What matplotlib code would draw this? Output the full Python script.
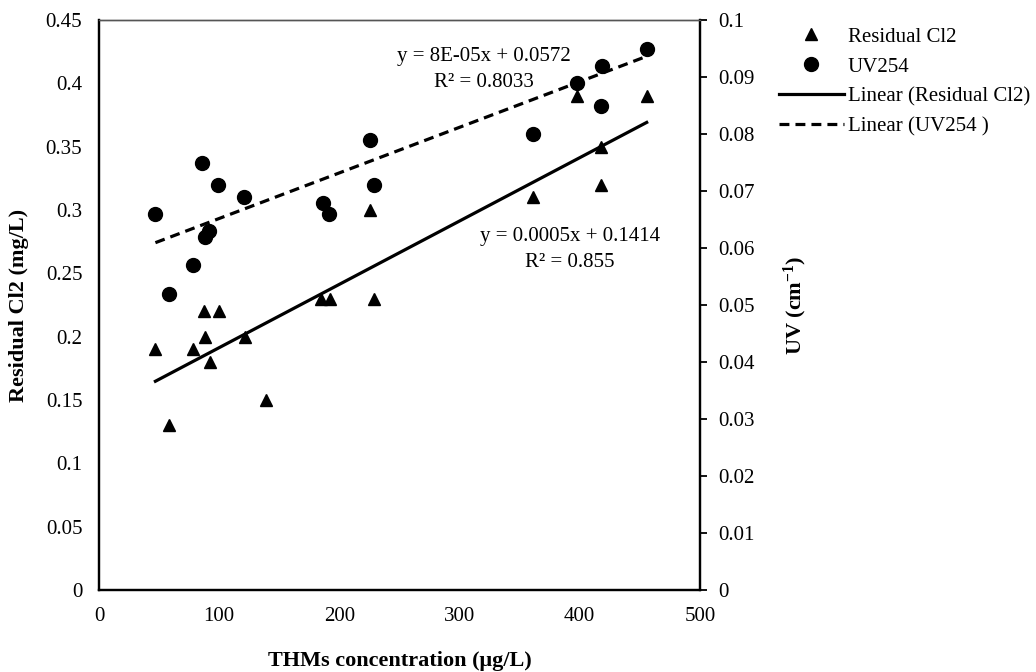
import matplotlib
matplotlib.use("Agg")
import matplotlib.pyplot as plt
from matplotlib.lines import Line2D
from matplotlib.ticker import FuncFormatter
import numpy as np

plt.rcParams['font.family'] = ['Liberation Serif', 'DejaVu Serif']
plt.rcParams['mathtext.fontset'] = 'custom'
plt.rcParams['mathtext.rm'] = 'Liberation Serif'
plt.rcParams['mathtext.bf'] = 'Liberation Serif:bold'

# THMs (ug/L) vs residual chlorine (mg/L)
thm_cl2 = [46.9, 58.3, 78.2, 87.2, 88.3, 92.1, 99.6, 121.3, 139.3,
           185.1, 192.1, 225.4, 228.7, 360.8, 397.9, 417.4, 417.4, 455.7]
cl2 = [0.19, 0.13, 0.19, 0.22, 0.20, 0.18, 0.22, 0.20, 0.15,
       0.23, 0.23, 0.30, 0.23, 0.31, 0.39, 0.35, 0.32, 0.39]

# THMs (ug/L) vs UV254 absorbance (1/cm)
thm_uv = [46.9, 58.3, 78.2, 86.0, 88.0, 91.6, 99.1, 120.7, 186.5,
          191.2, 225.4, 228.7, 360.8, 397.9, 417.4, 418.9, 455.7]
uv = [0.066, 0.052, 0.057, 0.075, 0.062, 0.063, 0.071, 0.069, 0.068,
      0.066, 0.079, 0.071, 0.080, 0.089, 0.085, 0.092, 0.095]

# linear trend lines (slope, intercept, r2)
cl2_fit = (0.0005, 0.1414, '0.855')
uv_fit = (8e-05, 0.0572, '0.8033')

fs = 15

fig = plt.figure(figsize=(10.36, 6.72), dpi=100)
ax = fig.add_axes([0.0956, 0.122, 0.58, 0.848])
ax2 = ax.twinx()

ax.plot(thm_cl2, cl2, '^', color='black', markersize=9, zorder=3)
ax2.plot(thm_uv, uv, 'o', color='black', markersize=10, zorder=3)

xs = np.array([min(thm_cl2), max(thm_cl2)])
ax.plot(xs, cl2_fit[0] * xs + cl2_fit[1], '-', color='black', lw=2.3)
xs = np.array([min(thm_uv), max(thm_uv)])
ax2.plot(xs, uv_fit[0] * xs + uv_fit[1], '--', color='black', lw=2.3,
         dashes=(3.1, 1.9))

ax.set_xlim(0, 500)
ax.set_ylim(0, 0.45)
ax2.set_ylim(0, 0.1)
ax.set_xticks(np.arange(0, 501, 100))
ax.set_yticks(np.arange(0, 0.451, 0.05))
ax2.set_yticks(np.arange(0, 0.1001, 0.01))

fmt = FuncFormatter(lambda v, p: '%g' % round(v, 3))
ax.yaxis.set_major_formatter(fmt)
ax2.yaxis.set_major_formatter(fmt)

ax.tick_params(axis='x', length=0, pad=12, labelsize=fs)
ax.tick_params(axis='y', length=0, pad=12, labelsize=fs)
ax2.tick_params(axis='y', length=5, width=1.3, pad=8, labelsize=fs)

for a in (ax, ax2):
    for s in ('left', 'bottom', 'right'):
        a.spines[s].set_linewidth(1.6)
    a.spines['top'].set_linewidth(1.0)
    a.spines['top'].set_color('#555555')

ax.set_xlabel('THMs concentration (μg/L)', fontsize=16, fontweight='bold',
              labelpad=18)
ax.set_ylabel('Residual Cl2 (mg/L)', fontsize=16, fontweight='bold',
              labelpad=12)
ax2.set_ylabel(r'UV (cm$\mathbf{^{-1}}$)', fontsize=16, fontweight='bold',
               labelpad=20)

ax.text(320, 0.421, 'y = 8E-05x + %.4f' % uv_fit[1], ha='center', va='center',
        fontsize=fs)
ax.text(320, 0.401, 'R² = %s' % uv_fit[2], ha='center', va='center', fontsize=fs)
ax.text(392, 0.279, 'y = %.4fx + %.4f' % cl2_fit[:2], ha='center', va='center',
        fontsize=fs)
ax.text(392, 0.259, 'R² = %s' % cl2_fit[2], ha='center', va='center', fontsize=fs)

handles = [
    Line2D([], [], ls='none', marker='^', color='black', markersize=9),
    Line2D([], [], ls='none', marker='o', color='black', markersize=10),
    Line2D([], [], ls='-', color='black', lw=2.3),
    Line2D([], [], ls='--', color='black', lw=2.3, dashes=(3.1, 1.9)),
]
labels = ['Residual Cl2', 'UV254', 'Linear (Residual Cl2)', 'Linear (UV254 )']
fig.legend(handles, labels, loc='upper left', bbox_to_anchor=(0.744, 0.972),
           frameon=False, fontsize=fs, handlelength=3.1, handletextpad=0.2,
           labelspacing=0.5, borderaxespad=0)

fig.savefig('out.png', dpi=100)
